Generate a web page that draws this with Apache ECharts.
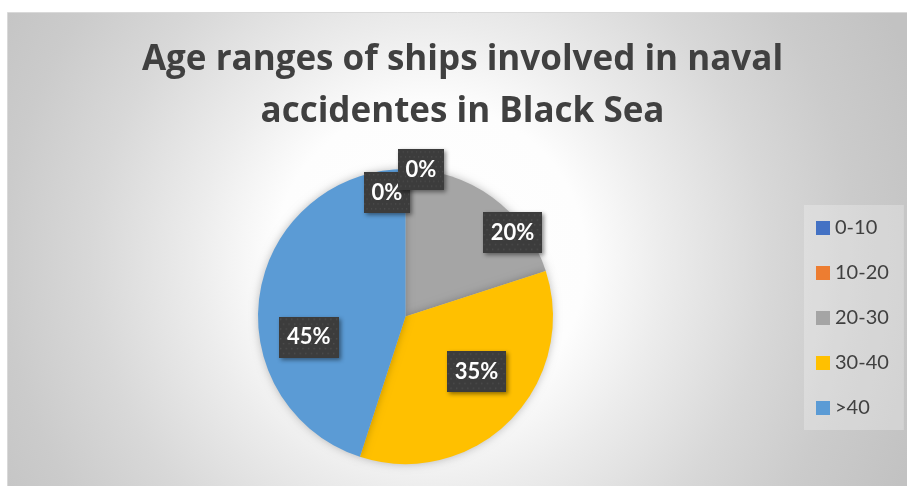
<!DOCTYPE html>
<html>
<head>
<meta charset="utf-8">
<title>Age ranges of ships involved in naval accidentes in Black Sea</title>
<script src="https://cdn.jsdelivr.net/npm/echarts@6/dist/echarts.min.js"></script>
<style>
  html, body { margin: 0; padding: 0; background: #ffffff; }
  #chart { width: 907px; height: 486px; }
</style>
</head>
<body>
<div id="chart"></div>
<script>
// Age ranges (years) and their share of accidents (%)
const categories = ['0-10', '10-20', '20-30', '30-40', '>40'];
const shares = [0, 0, 20, 35, 45];
const colors = ['#4472C4', '#ED7D31', '#A5A5A5', '#FFC000', '#5B9BD5'];
const titleLines = ['Age ranges of ships involved in naval', 'accidentes in Black Sea'];

// Where each data label sits: [angle clockwise from 12 o'clock (deg), fraction of radius]
const labelSpots = [[-8.5, 0.85], [6, 1.0], [52, 0.92], [128, 0.61], [258, 0.67]];

const pieCenter = [405.5, 316.5];
const pieRadius = 147.5;

// Dark, finely dotted fill used behind the data labels
function dottedTile(w, h) {
  const c = document.createElement('canvas');
  c.width = w; c.height = h;
  const g = c.getContext('2d');
  g.fillStyle = '#3c3c3c';
  g.fillRect(0, 0, w, h);
  g.fillStyle = '#4e4e4e';
  for (let y = 2, row = 0; y < h; y += 5, row++) {
    for (let x = (row % 2 ? 4 : 1); x < w; x += 6) {
      g.fillRect(x, y, 1.5, 1.5);
    }
  }
  return c;
}
const labelFill = dottedTile(64, 42);

const chart = echarts.init(document.getElementById('chart'), null, { renderer: 'canvas' });

chart.setOption({
  animation: false,
  backgroundColor: '#ffffff',
  color: colors,
  graphic: [
    {
      type: 'rect',
      z: -10,
      shape: { x: 7.5, y: 12.5, width: 900, height: 474 },
      style: {
        fill: new echarts.graphic.RadialGradient(430, 260, 520, [
          { offset: 0, color: '#ffffff' },
          { offset: 0.3, color: '#fdfdfd' },
          { offset: 0.45, color: '#ececec' },
          { offset: 0.65, color: '#d8d8d8' },
          { offset: 0.82, color: '#cbcbcb' },
          { offset: 1, color: '#c2c2c2' }
        ], true),
        stroke: '#d9d9d9',
        lineWidth: 1
      }
    },
    {
      type: 'text',
      z: 10,
      style: {
        x: 462.5,
        y: 86.5,
        text: titleLines.join('\n'),
        textAlign: 'center',
        textVerticalAlign: 'middle',
        font: 'bold 35px "Open Sans"',
        lineHeight: 52,
        fill: '#404040'
      }
    }
  ],
  legend: {
    orient: 'vertical',
    left: 804,
    top: 205,
    data: categories,
    icon: 'rect',
    itemWidth: 14,
    itemHeight: 14,
    itemGap: 25,
    padding: [13, 15, 12, 12],
    backgroundColor: 'rgba(255,255,255,0.25)',
    selectedMode: false,
    textStyle: {
      fontFamily: 'Lato',
      fontSize: 20,
      lineHeight: 20,
      color: '#404040'
    }
  },
  series: [
    {
      type: 'pie',
      center: pieCenter,
      radius: pieRadius,
      startAngle: 90,
      clockwise: true,
      stillShowZeroSum: true,
      avoidLabelOverlap: false,
      itemStyle: {
        shadowBlur: 8,
        shadowColor: 'rgba(0,0,0,0.25)'
      },
      label: {
        show: true,
        position: 'inside',
        formatter: p => Math.round(p.percent) + '%',
        color: '#ffffff',
        fontFamily: 'Lato',
        fontWeight: 'bold',
        fontSize: 22,
        backgroundColor: { image: labelFill },
        padding: [10, 8, 9, 8],
        shadowColor: 'rgba(0,0,0,0.45)',
        shadowBlur: 4,
        shadowOffsetX: 2,
        shadowOffsetY: 2
      },
      labelLine: { show: false },
      labelLayout: function (params) {
        const spot = labelSpots[params.dataIndex];
        const a = spot[0] * Math.PI / 180;
        const r = spot[1] * pieRadius;
        return {
          x: pieCenter[0] + r * Math.sin(a),
          y: pieCenter[1] - r * Math.cos(a),
          align: 'center',
          verticalAlign: 'middle'
        };
      },
      emphasis: { disabled: true },
      data: categories.map((name, i) => ({ name: name, value: shares[i] }))
    }
  ]
});
</script>
</body>
</html>
